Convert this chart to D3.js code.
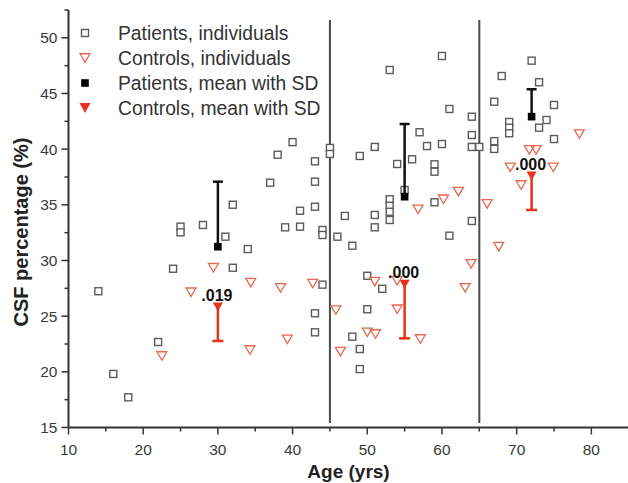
<!DOCTYPE html>
<html>
<head>
<meta charset="utf-8">
<script src="https://cdn.jsdelivr.net/npm/d3@7"></script>
<style>
  html, body { margin: 0; padding: 0; background: #fff; }
  svg { display: block; font-family: "Liberation Sans", Arial, sans-serif; }
</style>
</head>
<body>
<svg id="chart" width="628" height="483"></svg>
<script>
// ---------------- data ----------------
const patientAge = [14,16,18,22,24,25,25,28,31,32,32,34,37,38,39,40,41,41,43,43,43,43,43,44,44,44,45,45,46,47,48,48,49,49,49,50,50,51,51,51,52,53,53,53,53,53,54,55,56,57,58,59,59,59,60,60,61,61,64,64,64,64,65,67,67,67,68,69,69,69,72,73,73,74,75,75];
const patientCSF = [27.24,19.81,17.71,22.68,29.26,33.04,32.53,33.19,32.14,35.01,29.35,31.03,36.99,39.50,32.98,40.63,34.47,33.04,38.91,37.08,34.83,25.26,23.55,32.74,32.29,27.83,40.11,39.57,32.14,34.0,31.33,23.16,39.39,22.05,20.25,28.63,25.62,40.2,34.09,32.98,27.46,47.11,35.5,34.92,34.38,33.64,38.67,36.33,39.09,41.52,40.28,38.64,37.98,35.23,48.37,40.46,43.61,32.23,42.92,41.27,40.2,33.55,40.2,44.26,40.72,40.02,46.57,42.44,41.93,41.43,47.95,46.01,41.93,42.62,43.97,40.91];

const controlAge = [22.5,26.4,29.4,34.3,34.4,38.4,39.3,42.7,45.8,46.4,50.0,51.1,51.0,54.0,54.0,56.8,57.1,60.2,62.2,63.1,63.9,66.05,67.6,69.15,70.6,71.7,72.6,74.9,78.4];
const controlCSF = [21.42,27.15,29.35,21.96,28.01,27.55,22.92,27.93,25.55,21.81,23.55,23.4,28.1,28.19,25.62,34.6,22.95,35.5,36.18,27.55,29.69,35.08,31.24,38.37,36.78,39.93,39.93,38.37,41.36];

const groupAge = [30, 55, 72];
const patientMean = [31.24, 35.73, 42.92];
const patientSD = [5.84, 6.53, 2.46];
const controlMean = [25.91, 27.95, 37.68];
const controlSD = [3.14, 4.94, 3.14];
const pValueLabels = [".019", ".000", ".000"];

const ageCutoffs = [45, 65];
const xTicks = [10, 20, 30, 40, 50, 60, 70, 80];
const xMinorTicks = [15, 25, 35, 45, 55, 65, 75, 85];
const yTicks = [15, 20, 25, 30, 35, 40, 45, 50];
const yMinorTicks = [17.5, 22.5, 27.5, 32.5, 37.5, 42.5, 47.5, 52.5];

const legendLabels = ["Patients, individuals", "Controls, individuals", "Patients, mean with SD", "Controls, mean with SD"];
const xTitle = "Age (yrs)";
const yTitle = "CSF percentage (%)";

// ---------------- drawing ----------------
const svg = d3.select("#chart");
const x = d3.scaleLinear().domain([10, 85]).range([68.5, 628.7]);
const y = d3.scaleLinear().domain([15, 52.5]).range([427.5, 10]);

const axisColor = "#333";
const sqColor = "#5e5a5a";
const triColor = "#e8674f";
const redFill = "#e8321c";

// cutoff lines
svg.selectAll("line.cut").data(ageCutoffs).enter().append("line")
  .attr("x1", d => x(d)).attr("x2", d => x(d))
  .attr("y1", y(51.6)).attr("y2", y(15.4))
  .attr("stroke", "#4a4a4a").attr("stroke-width", 2);

// axes lines
svg.append("line").attr("x1", x(10)).attr("x2", x(85)).attr("y1", y(15)).attr("y2", y(15))
  .attr("stroke", axisColor).attr("stroke-width", 2);
svg.append("line").attr("x1", x(10)).attr("x2", x(10)).attr("y1", y(52.5)).attr("y2", y(15))
  .attr("stroke", axisColor).attr("stroke-width", 2);

// x ticks
svg.selectAll("line.xt").data(xTicks).enter().append("line")
  .attr("x1", d => x(d)).attr("x2", d => x(d)).attr("y1", y(15)).attr("y2", y(15) + 7)
  .attr("stroke", axisColor).attr("stroke-width", 1.5);
svg.selectAll("line.xm").data(xMinorTicks).enter().append("line")
  .attr("x1", d => x(d)).attr("x2", d => x(d)).attr("y1", y(15)).attr("y2", y(15) + 4)
  .attr("stroke", axisColor).attr("stroke-width", 1.5);
svg.selectAll("text.xl").data(xTicks).enter().append("text")
  .attr("x", d => x(d)).attr("y", y(15) + 27)
  .attr("text-anchor", "middle").attr("font-size", 15.5).attr("fill", "#3a3a3a")
  .text(d => d);

// y ticks
svg.selectAll("line.yt").data(yTicks).enter().append("line")
  .attr("x1", x(10) - 7).attr("x2", x(10)).attr("y1", d => y(d)).attr("y2", d => y(d))
  .attr("stroke", axisColor).attr("stroke-width", 1.5);
svg.selectAll("line.ym").data(yMinorTicks).enter().append("line")
  .attr("x1", x(10) - 4).attr("x2", x(10)).attr("y1", d => y(d)).attr("y2", d => y(d))
  .attr("stroke", axisColor).attr("stroke-width", 1.5);
svg.selectAll("text.yl").data(yTicks).enter().append("text")
  .attr("x", x(10) - 11).attr("y", d => y(d)).attr("dy", "0.36em")
  .attr("text-anchor", "end").attr("font-size", 15.5).attr("fill", "#3a3a3a")
  .text(d => d);

// titles
svg.append("text").attr("x", 348.5).attr("y", 477.5).attr("text-anchor", "middle")
  .attr("font-size", 19).attr("font-weight", "bold").attr("fill", "#222").text(xTitle);
svg.append("text").attr("transform", `translate(28, 232) rotate(-90)`).attr("text-anchor", "middle")
  .attr("font-size", 20).attr("font-weight", "bold").attr("fill", "#222").text(yTitle);

// marker shapes
const sq = 7;
function downTri(w, h) {
  return `M${-w/2},${-h/2}L${w/2},${-h/2}L0,${h/2}Z`;
}

// patients individual squares
svg.selectAll("rect.pat").data(patientAge.map((a, i) => [a, patientCSF[i]])).enter().append("rect")
  .attr("x", d => x(d[0]) - sq/2).attr("y", d => y(d[1]) - sq/2)
  .attr("width", sq).attr("height", sq)
  .attr("fill", "#fff").attr("stroke", sqColor).attr("stroke-width", 1.4);

// controls individual triangles
svg.selectAll("path.ctl").data(controlAge.map((a, i) => [a, controlCSF[i]])).enter().append("path")
  .attr("transform", d => `translate(${x(d[0])},${y(d[1])})`)
  .attr("d", downTri(10, 8.5))
  .attr("fill", "none").attr("stroke", triColor).attr("stroke-width", 1.3).attr("stroke-linejoin", "miter");

// patient mean + SD (upward)
groupAge.forEach((a, i) => {
  const cx = x(a), my = y(patientMean[i]), ty = y(patientMean[i] + patientSD[i]);
  svg.append("line").attr("x1", cx).attr("x2", cx).attr("y1", my).attr("y2", ty)
    .attr("stroke", "#111").attr("stroke-width", 2.5);
  svg.append("line").attr("x1", cx - 5).attr("x2", cx + 5).attr("y1", ty).attr("y2", ty)
    .attr("stroke", "#111").attr("stroke-width", 2.5);
  svg.append("rect").attr("x", cx - 3.8).attr("y", my - 3.8).attr("width", 7.6).attr("height", 7.6)
    .attr("fill", "#000");
});

// control mean + SD (downward)
groupAge.forEach((a, i) => {
  const cx = x(a), my = y(controlMean[i]), by = y(controlMean[i] - controlSD[i]);
  svg.append("line").attr("x1", cx).attr("x2", cx).attr("y1", my).attr("y2", by)
    .attr("stroke", redFill).attr("stroke-width", 2.5);
  svg.append("line").attr("x1", cx - 5.5).attr("x2", cx + 5.5).attr("y1", by).attr("y2", by)
    .attr("stroke", redFill).attr("stroke-width", 2.5);
  svg.append("path").attr("transform", `translate(${cx},${my + 1})`).attr("d", downTri(10, 9))
    .attr("fill", redFill);
  svg.append("text").attr("x", cx - 1).attr("y", my - 5).attr("text-anchor", "middle")
    .attr("font-size", 16).attr("font-weight", "bold").attr("fill", "#111")
    .text(pValueLabels[i]);
});

// legend
const lg = svg.append("g");
const rowY = [33, 58, 83, 108];
const symX = 85;
lg.append("rect").attr("x", symX - sq/2).attr("y", rowY[0] - sq/2).attr("width", sq).attr("height", sq)
  .attr("fill", "#fff").attr("stroke", sqColor).attr("stroke-width", 1.4);
lg.append("path").attr("transform", `translate(${symX},${rowY[1]})`).attr("d", downTri(10, 8.5))
  .attr("fill", "none").attr("stroke", triColor).attr("stroke-width", 1.3);
lg.append("rect").attr("x", symX - 3.8).attr("y", rowY[2] - 3.8).attr("width", 7.6).attr("height", 7.6)
  .attr("fill", "#000");
lg.append("path").attr("transform", `translate(${symX},${rowY[3]})`).attr("d", downTri(11, 10))
  .attr("fill", redFill);
lg.selectAll("text").data(legendLabels).enter().append("text")
  .attr("x", 118).attr("y", (d, i) => rowY[i]).attr("dy", "0.36em")
  .attr("font-size", 19.3).attr("fill", "#333").text(d => d);
</script>
</body>
</html>
